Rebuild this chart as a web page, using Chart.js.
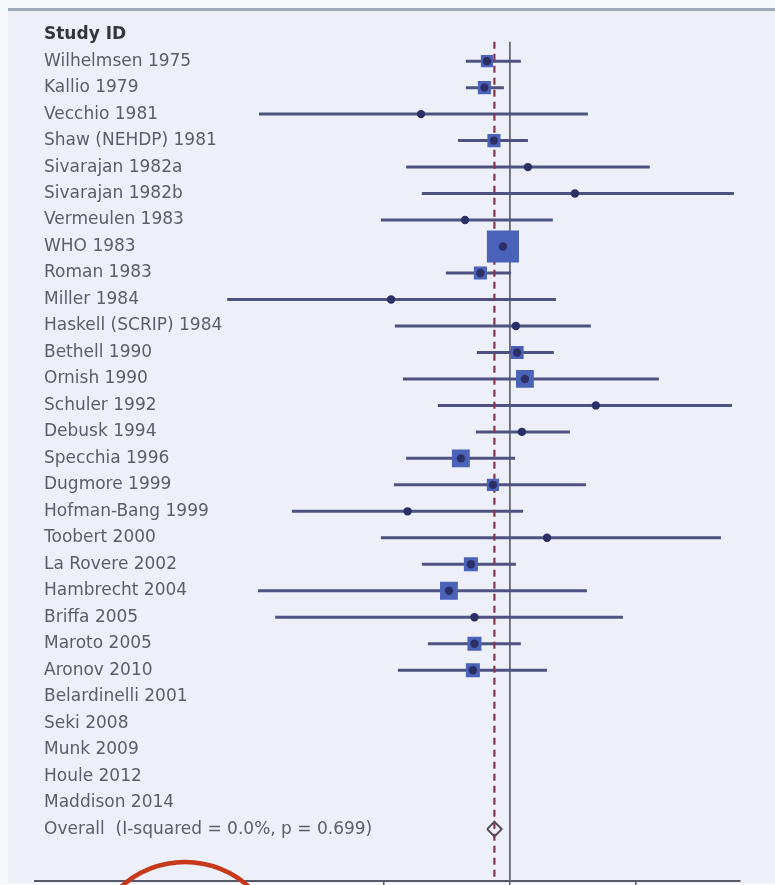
<!DOCTYPE html>
<html><head><meta charset="utf-8">
<script src="https://cdn.jsdelivr.net/npm/chart.js@4.4.1/dist/chart.umd.min.js"></script>
<style>
html,body{margin:0;padding:0;background:#f7f8fb;overflow:hidden;width:775px;height:885px;}
#panel{position:absolute;left:8px;top:8px;width:767px;height:875px;background:#edf0f8;border-top:3px solid #a3a9bd;box-sizing:border-box;}
#wrap{position:absolute;left:8px;top:8px;width:767px;height:900px;}
</style></head><body>
<div id="panel"></div>
<div id="wrap"><canvas id="c"></canvas></div>
<script>
// ---- data ----
const headerLabel = 'Study ID';
const studies = ['Wilhelmsen 1975','Kallio 1979','Vecchio 1981','Shaw (NEHDP) 1981','Sivarajan 1982a','Sivarajan 1982b','Vermeulen 1983','WHO 1983','Roman 1983','Miller 1984','Haskell (SCRIP) 1984','Bethell 1990','Ornish 1990','Schuler 1992','Debusk 1994','Specchia 1996','Dugmore 1999','Hofman-Bang 1999','Toobert 2000','La Rovere 2002','Hambrecht 2004','Briffa 2005','Maroto 2005','Aronov 2010','Belardinelli 2001','Seki 2008','Munk 2009','Houle 2012','Maddison 2014'];
const estimate = [0.657,0.627,0.197,0.747,1.39,3.28,0.44,0.88,0.583,0.114,1.116,1.14,1.315,4.81,1.245,0.408,0.733,0.154,1.97,0.49,0.328,0.523,0.523,0.508,null,null,null,null,null];
const lower    = [0.447,0.447,0.0102,0.387,0.150,0.200,0.0946,0.76,0.31,0.0057,0.122,0.547,0.1415,0.268,0.537,0.150,0.12,0.0186,0.0946,0.200,0.0100,0.0137,0.2235,0.129,null,null,null,null,null];
const upper    = [1.22,0.896,4.16,1.39,12.9,60.0,2.19,1.02,1.02,2.32,4.39,2.23,15.2,57.8,2.99,1.096,4.01,1.27,47.3,1.116,4.08,7.88,1.22,1.967,null,null,null,null,null];
const weight   = [3,3.5,0.3,3.5,0.4,0.3,0.6,21,3.5,0.3,0.8,3.5,6.5,0.4,0.8,6.5,3,0.6,0.4,4,6.5,0.5,4,4,null,null,null,null,null];
const overallLabel = 'Overall  (I-squared = 0.0%, p = 0.699)';
const overallEst = 0.753, overallLo = 0.66, overallHi = 0.86;
const xTickValues = [0.1, 1, 10];
const nullValue = 1;

// ---- build ----
const rowLabels = [headerLabel, ...studies, overallLabel];
const overallRow = rowLabels.length - 1;
const yMin = -0.151, yMax = 31.96, lineTop = 0.27;

const ciSets = [];
const squarePts = [], squareR = [], dotPts = [];
studies.forEach((s, i) => {
  const row = i + 1;
  if (estimate[i] == null) return;
  ciSets.push({type:'line', order:5, data:[{x:lower[i],y:row},{x:upper[i],y:row}],
    borderColor:'#4f5280', borderWidth:3, pointRadius:0, fill:false});
  squarePts.push({x:estimate[i], y:row});
  squareR.push(7*Math.sqrt(weight[i])/Math.SQRT2);
  dotPts.push({x:estimate[i], y:row});
});

const datasets = [
  {type:'scatter', order:1, data:dotPts, pointStyle:'circle', pointRadius:4.2,
   backgroundColor:'#2c2f66', borderColor:'#2c2f66', borderWidth:0},
  {type:'scatter', order:2, data:squarePts, pointStyle:'rect', pointRadius:squareR,
   backgroundColor:'#4a62b8', borderColor:'#4a62b8', borderWidth:0},
  {type:'line', order:3, data:[{x:overallLo,y:overallRow},{x:overallEst,y:overallRow-0.28},{x:overallHi,y:overallRow},{x:overallEst,y:overallRow+0.28},{x:overallLo,y:overallRow}],
   borderColor:'#5b4a5e', borderWidth:2, pointRadius:0, fill:false, tension:0},
  {type:'line', order:4, data:[{x:overallEst,y:lineTop},{x:overallEst,y:yMax}],
   borderColor:'#84344e', borderWidth:2.2, borderDash:[7,5], pointRadius:0},
  ...ciSets,
  {type:'line', order:9, data:[{x:nullValue,y:lineTop},{x:nullValue,y:yMax}],
   borderColor:'#6e6a74', borderWidth:1.8, pointRadius:0}
];

const markPlugin = {
  id:'mark',
  afterDraw(chart){
    const {ctx, chartArea} = chart;
    ctx.save();
    ctx.strokeStyle = '#c7391a';
    ctx.lineWidth = 4.5;
    ctx.beginPath();
    ctx.arc(chartArea.left + 150, chartArea.bottom + 76, 95, 0, Math.PI*2);
    ctx.stroke();
    ctx.restore();
  }
};

new Chart(document.getElementById('c'), {
  type:'scatter',
  data:{datasets},
  plugins:[markPlugin],
  options:{
    responsive:true, maintainAspectRatio:false, animation:false,
    layout:{padding:{left:27,right:35,top:1,bottom:7}},
    plugins:{legend:{display:false}, tooltip:{enabled:false}},
    scales:{
      x:{type:'logarithmic', min:1.7e-4, max:67,
         afterBuildTicks: ax => { ax.ticks = xTickValues.map(v => ({value:v})); },
         afterFit: ax => { ax.height = 20; },
         ticks:{display:false},
         grid:{display:true, drawOnChartArea:false, drawTicks:true, tickLength:8, color:'#55596a', lineWidth:1.5},
         border:{display:true, color:'#55596a', width:2}},
      y:{type:'linear', reverse:true, min:yMin, max:yMax,
         afterBuildTicks: ax => { ax.ticks = rowLabels.map((_, i) => ({value:i})); },
         afterFit: ax => { ax.width = 0; },
         ticks:{mirror:true, crossAlign:'near', padding:9, autoSkip:false,
           color: ctx => ctx.index === 0 ? '#33363f' : '#5a5e6a',
           font: ctx => ({family:'DejaVu Sans', size:17, weight: ctx.index === 0 ? 'bold' : 'normal'}),
           callback: v => rowLabels[v]},
         grid:{display:false}, border:{display:false}}
    }
  }
});
</script>
</body></html>
